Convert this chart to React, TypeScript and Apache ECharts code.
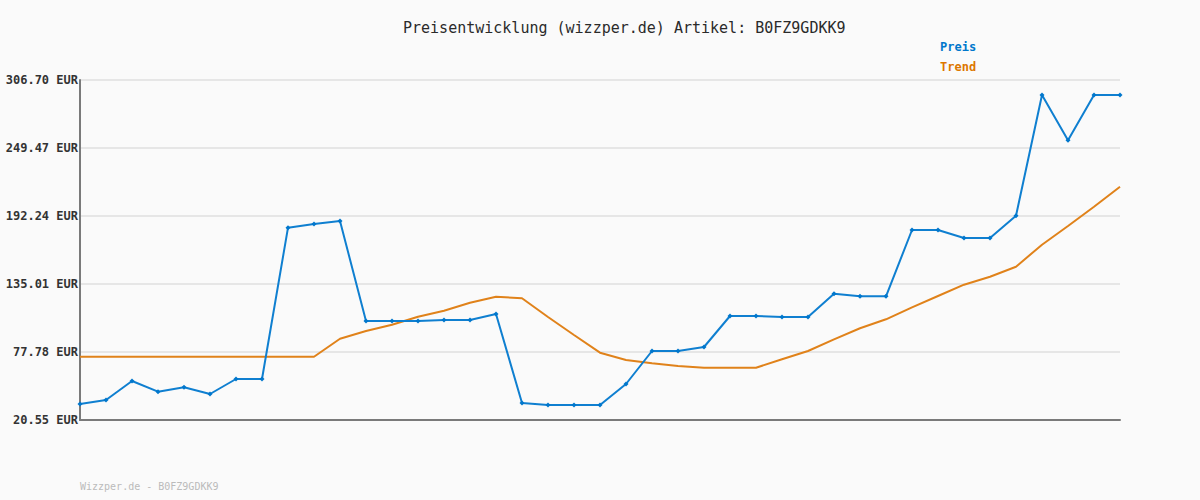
import React, { useEffect, useRef } from "react";
import * as echarts from "echarts";

const categories = [
  "1", "2", "3", "4", "5", "6", "7", "8", "9", "10",
  "11", "12", "13", "14", "15", "16", "17", "18", "19", "20",
  "21", "22", "23", "24", "25", "26", "27", "28", "29", "30",
  "31", "32", "33", "34", "35", "36", "37", "38", "39", "40", "41",
];

const preis = [
  34.02, 37.38, 53.37, 44.37, 48.07, 42.43, 55.06, 55.06, 182.39, 185.51,
  188.03, 103.87, 103.87, 103.87, 104.71, 104.71, 109.76, 34.86, 33.17, 33.17,
  33.17, 50.85, 78.62, 78.62, 81.99, 108.08, 108.08, 107.24, 107.24, 126.85,
  124.66, 124.66, 180.46, 180.46, 173.72, 173.72, 192.49, 294.08, 255.95, 294.08,
  294.08,
];

const trend = [
  73.82, 73.82, 73.82, 73.82, 73.82, 73.82, 73.82, 73.82, 73.82, 73.82,
  88.97, 95.45, 100.76, 107.49, 112.54, 119.27, 124.32, 122.98, 107.24, 92.09,
  77.19, 71.05, 68.27, 66.0, 64.57, 64.57, 64.57, 71.64, 78.62, 88.47,
  97.73, 105.3, 115.4, 124.91, 134.42, 141.15, 149.57, 168.09, 183.82, 200.07,
  216.9,
];

const yTicks = [20.55, 77.78, 135.01, 192.24, 249.47, 306.7];

const titleText = "Preisentwicklung (wizzper.de) Artikel: B0FZ9GDKK9";
const footerText = "Wizzper.de - B0FZ9GDKK9";

const MONO = "'DejaVu Sans Mono', 'Liberation Mono', monospace";
const BLUE = "#0f7fd0";
const ORANGE = "#e0821a";

export default function App() {
  const ref = useRef<HTMLDivElement>(null);

  useEffect(() => {
    if (!ref.current) return;
    const chart = echarts.init(ref.current, undefined, { renderer: "svg" });
    chart.setOption({
      animation: false,
      backgroundColor: "#fafafa",
      title: [
        {
          text: titleText,
          left: 403,
          top: 20,
          padding: 0,
          textStyle: {
            fontFamily: MONO,
            fontSize: 15,
            fontWeight: "normal",
            color: "#2a2a2a",
          },
        },
        {
          text: footerText,
          left: 80,
          top: 481,
          padding: 0,
          textStyle: {
            fontFamily: MONO,
            fontSize: 10,
            fontWeight: "normal",
            color: "#bbbbbb",
          },
        },
      ],
      legend: {
        orient: "vertical",
        left: 935,
        top: 40,
        padding: 0,
        itemWidth: 0,
        itemHeight: 14,
        itemGap: 6,
        icon: "rect",
        selectedMode: false,
        textStyle: { fontFamily: MONO, fontSize: 12, fontWeight: "bold" },
        data: [
          { name: "Preis", textStyle: { color: "#0077cc" } },
          { name: "Trend", textStyle: { color: "#dd7700" } },
        ],
      },
      grid: { left: 80, right: 80, top: 80, bottom: 80, containLabel: false },
      xAxis: {
        type: "category",
        data: categories,
        boundaryGap: false,
        axisLabel: { show: false },
        axisTick: { show: false },
        axisLine: { show: true, lineStyle: { color: "#7a7a7a", width: 2 } },
        splitLine: { show: false },
      },
      yAxis: {
        type: "value",
        min: 20.55,
        max: 306.7,
        axisLine: { show: true, lineStyle: { color: "#7a7a7a", width: 2 } },
        axisTick: { show: false, customValues: yTicks },
        axisLabel: {
          customValues: yTicks,
          formatter: (v: number) => v.toFixed(2) + " EUR",
          fontFamily: MONO,
          fontSize: 12,
          fontWeight: "bold",
          color: "#333",
          margin: 2,
        },
        splitLine: { show: true, lineStyle: { color: "#e6e6e6", width: 2 } },
      },
      series: [
        {
          name: "Trend",
          type: "line",
          data: trend,
          symbol: "none",
          lineStyle: { color: ORANGE, width: 2 },
          itemStyle: { color: "#dd7700" },
        },
        {
          name: "Preis",
          type: "line",
          data: preis,
          symbol: "diamond",
          symbolSize: 5,
          lineStyle: { color: BLUE, width: 2 },
          itemStyle: { color: "#0077cc" },
        },
      ],
    });
    return () => chart.dispose();
  }, []);

  return (
    <div
      ref={ref}
      style={{ position: "fixed", left: 0, top: 0, width: 1200, height: 500 }}
    />
  );
}
